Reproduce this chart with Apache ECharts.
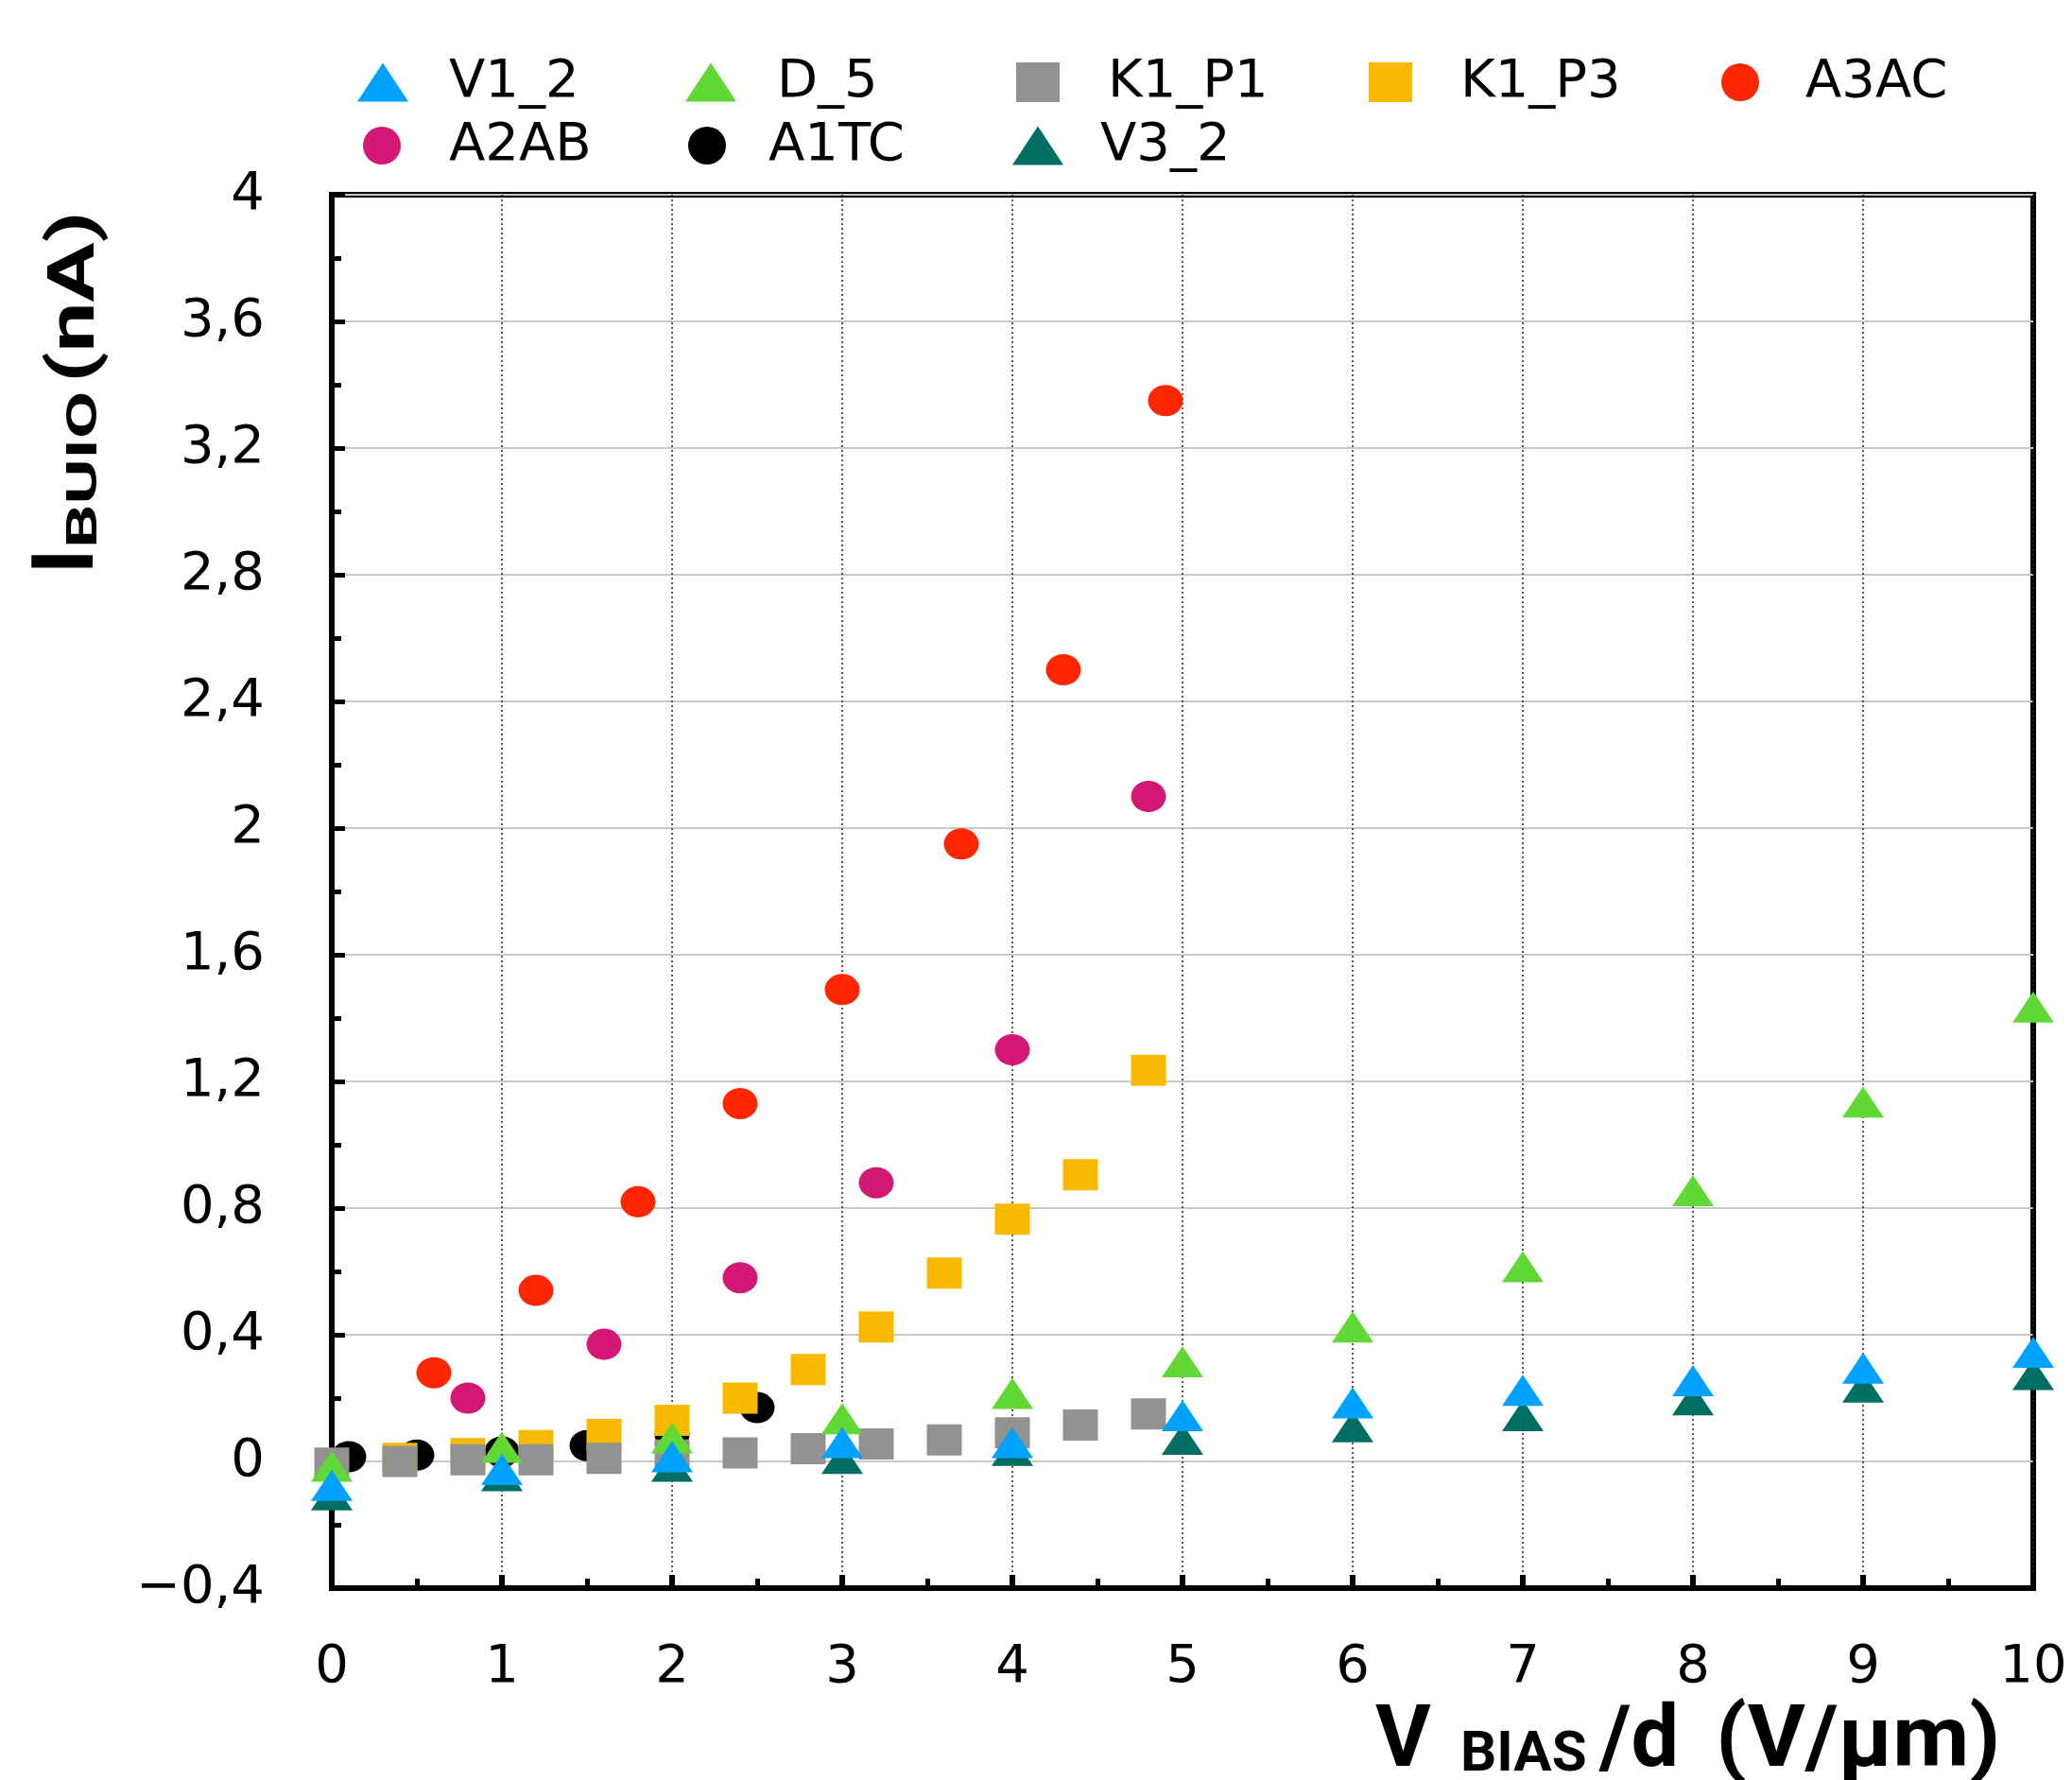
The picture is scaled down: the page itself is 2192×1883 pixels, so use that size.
<!DOCTYPE html>
<html>
<head>
<meta charset="utf-8">
<script src="https://cdn.jsdelivr.net/npm/echarts@6/dist/echarts.min.js"></script>
<style>
  html, body { margin: 0; padding: 0; background: #fff; }
  #chart { width: 2192px; height: 1883px; }
</style>
</head>
<body>
<div id="chart"></div>
<script>
// field V_BIAS/d (V/µm) for the triangle series
const xField = [0, 1, 2, 3, 4, 5, 6, 7, 8, 9, 10];
const v1_2 = [-0.075, -0.025, 0.015, 0.06, 0.06, 0.145, 0.185, 0.225, 0.255, 0.295, 0.345];
const d_5 = [-0.015, 0.045, 0.075, 0.135, 0.215, 0.315, 0.425, 0.615, 0.855, 1.135, 1.435];
const v3_2 = [-0.105, -0.045, -0.015, 0.01, 0.035, 0.07, 0.11, 0.145, 0.195, 0.235, 0.275];

const k1p1X = [0, 0.4, 0.8, 1.2, 1.6, 2.0, 2.4, 2.8, 3.2, 3.6, 4.0, 4.4, 4.8];
const k1p1Y = [-0.005, 0, 0.005, 0.005, 0.01, 0.02, 0.027, 0.04, 0.055, 0.068, 0.09, 0.115, 0.15];

const k1p3X = [0.4, 0.8, 1.2, 1.6, 2.0, 2.4, 2.8, 3.2, 3.6, 4.0, 4.4, 4.8];
const k1p3Y = [0.01, 0.025, 0.05, 0.085, 0.13, 0.2, 0.29, 0.425, 0.595, 0.765, 0.905, 1.235];

const a3acX = [0.6, 1.2, 1.8, 2.4, 3.0, 3.7, 4.3, 4.9];
const a3acY = [0.28, 0.54, 0.82, 1.13, 1.49, 1.95, 2.50, 3.35];

const a2abX = [0.8, 1.6, 2.4, 3.2, 4.0, 4.8];
const a2abY = [0.2, 0.37, 0.58, 0.88, 1.30, 2.10];

const a1tcX = [0.1, 0.5, 1.0, 1.5, 2.0, 2.5];
const a1tcY = [0.015, 0.02, 0.03, 0.05, 0.085, 0.17];

const chart = echarts.init(document.getElementById('chart'));

const zip = (xs, ys) => xs.map((x, i) => [x, ys[i]]);
const TRI = [44, 33], BOX = [37, 33];

function pts(name, xs, ys, symbol, size, color) {
  return {
    name, type: 'scatter', symbol, symbolSize: size,
    data: zip(xs, ys),
    itemStyle: { color, opacity: 1 },
    emphasis: { disabled: true },
  };
}

// one legend per entry so each sits where the original puts it
function leg(name, left, top, w, h, pad) {
  return {
    data: [name], left, top, padding: 0,
    itemWidth: w, itemHeight: h, selectedMode: false,
    textStyle: { fontFamily: 'DejaVu Sans', fontSize: 56, color: '#000', padding: [0, 0, 0, pad] },
  };
}

const yFmt = v => {
  if (Math.abs(v) < 1e-9) return '0';
  return String(+v.toFixed(1)).replace('.', ',').replace('-', '\u2212');
};

const titleFont = 'Roboto';
const txt = (x, y, text, size, extra) => Object.assign({
  type: 'text', x, y,
  style: { text, font: `bold ${size}px ${titleFont}`, fill: '#000', textAlign: 'left', textVerticalAlign: 'middle' },
}, extra || {});

chart.setOption({
  animation: false,
  backgroundColor: '#fff',
  legend: [
    leg('V1_2', 378, 59, 54, 41, 38),
    leg('D_5', 725, 59, 54, 41, 38),
    leg('K1_P1', 1075, 59, 46, 42, 46),
    leg('K1_P3', 1448, 59, 46, 42, 46),
    leg('A3AC', 1821, 59, 46, 40, 41),
    leg('A2AB', 384, 126, 46, 40, 43),
    leg('A1TC', 728, 126, 46, 40, 37),
    leg('V3_2', 1071, 126, 54, 41, 34),
  ],
  grid: {
    left: 351, right: 41, top: 206, bottom: 203,
    show: true, borderColor: '#000', borderWidth: 6,
  },
  xAxis: {
    type: 'value', min: 0, max: 10, interval: 1,
    axisLine: { onZero: false, lineStyle: { color: '#000', width: 6 } },
    axisTick: { inside: true, length: 14, lineStyle: { color: '#000', width: 6 } },
    minorTick: { show: true, splitNumber: 2, length: 10, lineStyle: { color: '#000', width: 5 } },
    axisLabel: { margin: 56, fontFamily: 'DejaVu Sans', fontSize: 56, color: '#000' },
    splitLine: { show: true, lineStyle: { color: '#222', width: 1.5, type: [2, 3] } },
  },
  yAxis: {
    type: 'value', min: -0.4, max: 4, interval: 0.4,
    axisLine: { onZero: false, lineStyle: { color: '#000', width: 6 } },
    axisTick: { inside: true, length: 14, lineStyle: { color: '#000', width: 5 } },
    minorTick: { show: true, splitNumber: 2, length: 10, lineStyle: { color: '#000', width: 5 } },
    axisLabel: { margin: 71, fontFamily: 'DejaVu Sans', fontSize: 56, color: '#000', formatter: yFmt },
    splitLine: { show: true, lineStyle: { color: '#c8c8c8', width: 2 } },
  },
  series: [
    pts('A1TC', a1tcX, a1tcY, 'circle', BOX, '#000000'),
    pts('K1_P3', k1p3X, k1p3Y, 'rect', BOX, '#f8ba00'),
    pts('K1_P1', k1p1X, k1p1Y, 'rect', BOX, '#929292'),
    pts('A3AC', a3acX, a3acY, 'circle', BOX, '#ff2600'),
    pts('A2AB', a2abX, a2abY, 'circle', BOX, '#d41876'),
    pts('V3_2', xField, v3_2, 'triangle', TRI, '#016e63'),
    pts('D_5', xField, d_5, 'triangle', TRI, '#62d836'),
    pts('V1_2', xField, v1_2, 'triangle', TRI, '#00a2ff'),
  ],
  graphic: [
    // y axis title, rotated, read bottom to top
    txt(75, 607, 'I', 90, { rotation: Math.PI / 2 }),
    txt(91, 580, 'BUIO', 45, { rotation: Math.PI / 2, scaleX: 1.62 }),
    txt(82, 405, '(nA)', 68, { rotation: Math.PI / 2, scaleX: 1.38 }),
    // x axis title
    txt(1455, 1845, 'V', 90),
    txt(1545, 1858, 'BIAS', 60),
    txt(1692, 1845, '/d', 90),
    txt(1815, 1845, '(V/\u03bcm)', 90, { scaleX: 1.04 }),
  ],
});
</script>
</body>
</html>
